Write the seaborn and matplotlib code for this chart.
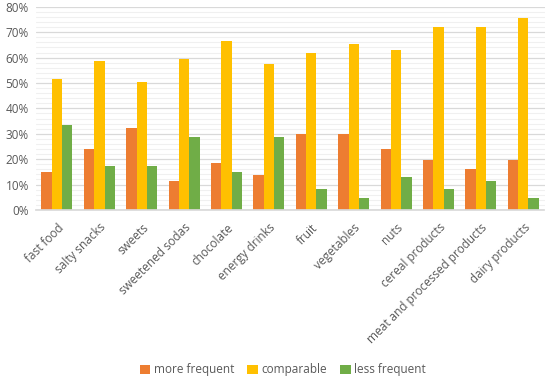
import matplotlib
matplotlib.use("Agg")
import matplotlib.pyplot as plt
import matplotlib.ticker as mticker
import seaborn as sns
import pandas as pd

categories = ["fast food", "salty snacks", "sweets", "sweetened sodas", "chocolate",
              "energy drinks", "fruit", "vegetables", "nuts", "cereal products",
              "meat and processed products", "dairy products"]
more_frequent = [15.0, 24.2, 32.2, 11.6, 18.6, 13.9, 30.0, 30.0, 24.2, 19.7, 16.2, 19.7]
comparable = [51.6, 58.6, 50.5, 59.6, 66.4, 57.4, 62.0, 65.4, 63.0, 72.2, 72.2, 75.7]
less_frequent = [33.3, 17.4, 17.4, 28.8, 15.0, 28.8, 8.2, 4.7, 12.8, 8.2, 11.6, 4.7]
series_names = ["more frequent", "comparable", "less frequent"]
colors = ["#ED7D31", "#FFC000", "#70AD47"]

rows = []
for name, vals in zip(series_names, [more_frequent, comparable, less_frequent]):
    for c, v in zip(categories, vals):
        rows.append({"category": c, "series": name, "value": v})
df = pd.DataFrame(rows)

sns.set_theme(style="white")
plt.rcParams['font.family'] = ['Open Sans', 'DejaVu Sans']

fig = plt.figure(figsize=(5.5, 3.79), dpi=100)
ax = fig.add_axes([0.065, 0.446, 0.925, 0.536])

sns.barplot(data=df, x="category", y="value", hue="series", order=categories,
            hue_order=series_names, palette=colors, width=0.73, ax=ax,
            saturation=1, linewidth=0, errorbar=None)

ax.set_ylim(0, 80)
ax.set_xlim(-0.5, len(categories) - 0.5)
ax.yaxis.set_major_locator(mticker.MultipleLocator(10))
ax.yaxis.set_minor_locator(mticker.MultipleLocator(2))
ax.yaxis.set_major_formatter(mticker.FuncFormatter(lambda v, p: f"{int(round(v))}%"))
ax.grid(axis="y", which="major", color="#D9D9D9", linewidth=0.9)
ax.grid(axis="y", which="minor", color="#F0F0F0", linewidth=0.8)
ax.set_axisbelow(True)
for s in ["top", "right", "left"]:
    ax.spines[s].set_visible(False)
ax.spines["bottom"].set_color("#D9D9D9")
ax.set_xlabel("")
ax.set_ylabel("")
ax.tick_params(axis="both", which="both", length=0, labelsize=8.5, colors="#595959")
ax.tick_params(axis="y", pad=5)
ax.tick_params(axis="x", pad=8)
plt.setp(ax.get_xticklabels(), rotation=45, ha="right", rotation_mode="anchor")

handles, labels = ax.get_legend_handles_labels()
ax.legend(handles, labels, loc="center", ncol=3, frameon=False, fontsize=8.5,
          handlelength=0.9, handleheight=0.9, handletextpad=0.3, columnspacing=1.1,
          labelcolor="#595959")
leg = ax.get_legend()
leg.set_bbox_to_anchor((0.514, 1 - 370 / 379), transform=fig.transFigure)

fig.savefig("out.png", dpi=100)
